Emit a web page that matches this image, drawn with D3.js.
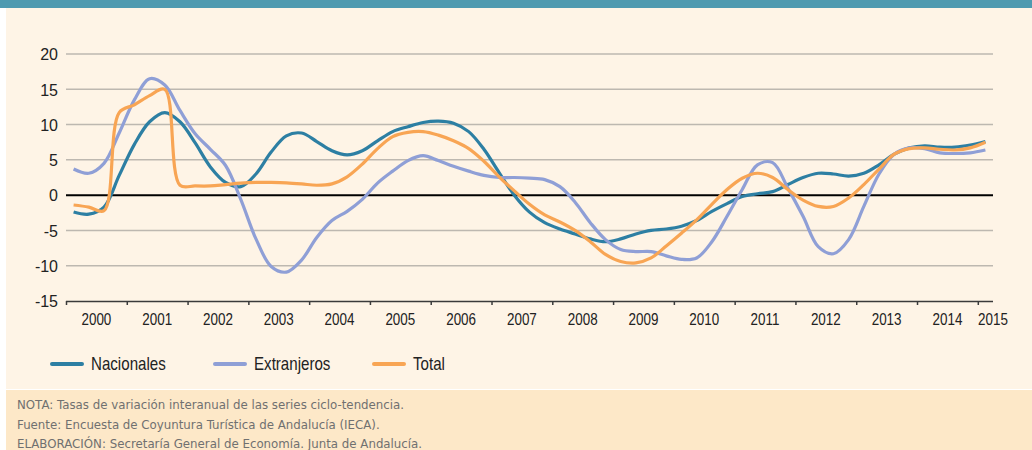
<!DOCTYPE html>
<html>
<head>
<meta charset="utf-8">
<script src="https://cdn.jsdelivr.net/npm/d3@7"></script>
<style>
  body { margin: 0; background: #ffffff; }
  svg { display: block; }
  .axis_text { font-family: "Liberation Sans", Arial, sans-serif; font-size: 16px; fill: #222; }
  .legend_text { font-family: "Liberation Sans", Arial, sans-serif; font-size: 18px; fill: #222; }
  .note_text { font-family: "DejaVu Sans", sans-serif; font-size: 11.8px; fill: #707070; }
</style>
</head>
<body>
<figure id="chart" style="margin:0"></figure>
<script>
// years on the axis, data is quarterly from 2000 T1 to 2015 T1
var years = [2000, 2001, 2002, 2003, 2004, 2005, 2006, 2007, 2008, 2009, 2010, 2011, 2012, 2013, 2014, 2015];
var yTicks = [-15, -10, -5, 0, 5, 10, 15, 20];

var nacionales = [
  -2.4, -2.7, -1.7, 2.8,   7.2, 10.4, 11.7, 10.4,   7.4, 4.0, 1.8, 1.2,
  3.0, 6.1, 8.4, 8.8,   7.6, 6.3, 5.7, 6.3,   7.7, 9.0, 9.7, 10.3,
  10.5, 10.2, 9.0, 6.5,   3.2, 0.0, -2.4, -3.9,   -4.8, -5.5, -6.2, -6.6,
  -6.2, -5.5, -5.0, -4.8,   -4.4, -3.6, -2.3, -1.2,   -0.2, 0.2, 0.5, 1.5,
  2.5, 3.1, 3.0, 2.7,   3.1, 4.3, 5.8, 6.7,   7.0, 6.8, 6.8, 7.1,   7.6
];
var extranjeros = [
  3.7, 3.1, 4.5, 8.8,   13.5, 16.5, 15.6, 12.0,   8.7, 6.5, 4.2, -0.6,
  -6.2, -10.1, -10.9, -9.2,   -6.0, -3.6, -2.3, -0.6,   1.7, 3.4, 4.9, 5.6,
  4.9, 4.1, 3.4, 2.8,   2.5, 2.5, 2.4, 2.2,   1.2, -1.0, -3.9, -6.3,
  -7.7, -8.0, -8.0, -8.6,   -9.1, -8.9, -6.6, -3.0,   0.8, 4.3, 4.6, 1.0,
  -3.0, -7.3, -8.3, -6.3,   -1.6, 3.0, 5.8, 6.7,   6.6, 6.0, 5.9, 6.0,   6.4
];
var total = [
  -1.4, -1.7, -2.2, 11.7,   12.8, 14.1, 15.0, 1.4,   1.3, 1.3, 1.5, 1.7,
  1.8, 1.8, 1.75, 1.6,   1.4, 1.6, 2.6, 4.4,   6.6, 8.3, 8.9, 9.0,
  8.5, 7.7, 6.6, 4.8,   2.6, 0.6, -1.3, -2.8,   -3.8, -5.0, -6.6, -8.4,
  -9.4, -9.6, -8.9, -7.2,   -5.4, -3.5, -1.3, 0.8,   2.4, 3.1, 2.5, 0.8,
  -0.7, -1.6, -1.6, -0.4,   1.5, 3.7, 5.8, 6.6,   6.7, 6.5, 6.4, 6.7,   7.5
];

var seriesNames = ["Nacionales", "Extranjeros", "Total"];
var seriesColors = ["#2d7fa3", "#8f9fd6", "#f8a554"];

var notes = [
  "NOTA: Tasas de variación interanual de las series ciclo-tendencia.",
  "Fuente: Encuesta de Coyuntura Turística de Andalucía (IECA).",
  "ELABORACIÓN: Secretaría General de Economía. Junta de Andalucía."
];

var dimensions = {
  width: 1032,
  height: 450,
  plotLeft: 66,
  plotRight: 993,
  plotTop: 54,
  plotBottom: 301
};
var narrow = 0.84; // no condensed font installed, so squeeze the text

var svg = d3.select("figure#chart")
  .append("svg")
  .attr("width", dimensions.width)
  .attr("height", dimensions.height);

// backgrounds
svg.append("rect").attr("x", 0).attr("y", 0).attr("width", 1032).attr("height", 450).attr("fill", "#ffffff");
svg.append("rect").attr("x", 6).attr("y", 8).attr("width", 1026).attr("height", 381).attr("fill", "#fef4e6");
svg.append("rect").attr("x", 6).attr("y", 390).attr("width", 1026).attr("height", 60).attr("fill", "#fde8c8");
svg.append("rect").attr("x", 0).attr("y", 0).attr("width", 1032).attr("height", 8).attr("fill", "#4e9ab0");

// periods: one per quarter, the last one is 2015 T1
var periods = [];
years.forEach(function(yr) {
  [1, 2, 3, 4].forEach(function(q) {
    if (yr < 2015 || q === 1) periods.push(yr + "-T" + q);
  });
});

var xScale = d3.scalePoint()
  .domain(periods)
  .range([dimensions.plotLeft, dimensions.plotRight])
  .padding(0.5);

// continuous year scale for the tick marks (boundaries between years)
var xYear = d3.scaleLinear()
  .domain([2000, 2000 + periods.length / 4])
  .range([dimensions.plotLeft, dimensions.plotRight]);

var yScale = d3.scaleLinear()
  .domain([-15, 20])
  .range([dimensions.plotBottom, dimensions.plotTop]);

// grid
svg.append("g")
  .selectAll("line")
  .data(yTicks.filter(d => d !== -15 && d !== 0))
  .enter()
  .append("line")
  .attr("x1", dimensions.plotLeft)
  .attr("x2", dimensions.plotRight)
  .attr("y1", d => yScale(d))
  .attr("y2", d => yScale(d))
  .attr("stroke", "#bdb8b0")
  .attr("stroke-width", 1.5);

// y axis labels (plain hyphen like the original)
var yAxis = svg.append("g")
  .attr("transform", "translate(58,0)")
  .call(d3.axisLeft(yScale).tickValues(yTicks).tickSize(0).tickPadding(0).tickFormat(d => String(d)));
yAxis.select(".domain").remove();
yAxis.selectAll("text").attr("class", "axis_text").attr("dy", "0.36em");

// x axis with tick marks at year boundaries
var xAxis = svg.append("g")
  .attr("transform", `translate(0, ${dimensions.plotBottom})`)
  .call(d3.axisBottom(xYear).tickValues(years).tickSize(4).tickSizeOuter(0).tickFormat(""));
xAxis.select(".domain")
  .attr("d", `M${dimensions.plotLeft},0.5H${dimensions.plotRight}`)
  .attr("stroke", "#3a3a3a")
  .attr("stroke-width", 1.5);
xAxis.selectAll(".tick line").attr("stroke", "#3a3a3a").attr("stroke-width", 1.5);

svg.append("g")
  .selectAll("text")
  .data(years)
  .enter()
  .append("text")
  .attr("class", "axis_text")
  .attr("transform", d => `translate(${Math.min(xYear(d + 0.5), dimensions.plotRight)}, 325) scale(${narrow}, 1)`)
  .attr("text-anchor", "middle")
  .text(d => d);

// zero line
svg.append("line")
  .attr("x1", dimensions.plotLeft)
  .attr("x2", dimensions.plotRight)
  .attr("y1", yScale(0))
  .attr("y2", yScale(0))
  .attr("stroke", "#000")
  .attr("stroke-width", 2);

// lines
var allSeries = [nacionales, extranjeros, total];
var line = d3.line()
  .x((d, i) => xScale(periods[i]))
  .y(d => yScale(d))
  .curve(d3.curveCatmullRom.alpha(0.5));

svg.append("g")
  .selectAll("path")
  .data(allSeries)
  .enter()
  .append("path")
  .attr("d", d => line(d))
  .attr("fill", "none")
  .attr("stroke", (d, i) => seriesColors[i])
  .attr("stroke-width", 3.2)
  .attr("stroke-linejoin", "round");

// legend
var legendX = [50, 213, 372];
var legend = svg.append("g")
  .selectAll("g")
  .data(seriesNames)
  .enter()
  .append("g")
  .attr("transform", (d, i) => `translate(${legendX[i]}, 364)`);
legend.append("line")
  .attr("x1", 2).attr("x2", 32)
  .attr("stroke", (d, i) => seriesColors[i])
  .attr("stroke-width", 4)
  .attr("stroke-linecap", "round");
legend.append("text")
  .attr("class", "legend_text")
  .attr("transform", `translate(41, 0) scale(${narrow}, 1)`)
  .attr("dy", "0.36em")
  .text(d => d);

// notes
svg.append("g")
  .selectAll("text")
  .data(notes)
  .enter()
  .append("text")
  .attr("class", "note_text")
  .attr("x", 17)
  .attr("y", (d, i) => 409 + i * 19.5)
  .text(d => d);
</script>
</body>
</html>
